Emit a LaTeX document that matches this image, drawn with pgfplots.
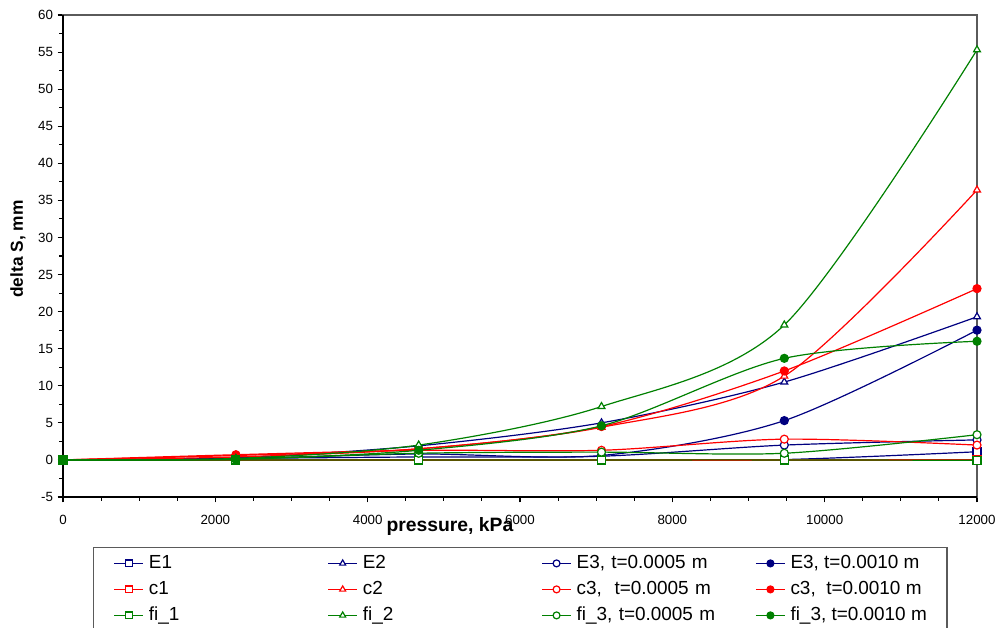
\documentclass[border=0pt]{standalone}
\usepackage{pgfplots}
\usepackage{pgfplotstable}
\pgfplotsset{compat=1.18}
\usepackage{fontspec}
\setmainfont{Liberation Sans}

\definecolor{navy}{RGB}{0,0,128}
\definecolor{exred}{RGB}{255,0,0}
\definecolor{exgreen}{RGB}{0,128,0}
\definecolor{framegray}{RGB}{90,90,90}

% settlement increments (mm) at each pressure step (kPa)
\pgfplotstableread{
p      E1    E2    Ea    Eb    c1   c2    ca   cb    f1     f2    fa    fb
0      0     0     0     0     0    0     0    0     0      0     0     0
2270   0     0.3   0.2   0.2   0    0.4   0.7  0.6   0      0.2   0.1   0.1
4670   0     1.9   0.4   0.8   0    1.5   1.3  1.5   0      2.0   0.9   1.3
7070   0     5.0   0.5   0.6   0    4.4   1.3  4.5   0      7.2   1.05  4.6
9470   0.05  10.5  2.0   5.3   0    11.3  2.8  12.0  0      18.2  0.9   13.7
12000  1.1   19.3  2.7   17.5  0    36.4  2.0  23.1  -0.05  55.3  3.4   16.0
}\settlement

\tikzset{
  wide entry/.style={text width=134pt, align=left},
}

\begin{document}
\begin{tikzpicture}
\useasboundingbox (0,0) rectangle (750.75pt,471pt);
\begin{axis}[
  scale only axis,
  width=685.5pt, height=361.5pt,
  at={(47.25pt,98.25pt)}, anchor=south west,
  xmin=0, xmax=12000, ymin=-5, ymax=60,
  xtick={0,2000,...,12000}, minor x tick num=3,
  ytick={-5,0,...,60}, minor y tick num=1,
  tick pos=left, tick align=outside,
  major tick length=4pt, minor tick length=3pt,
  tick style={black, line width=0.8pt},
  scaled x ticks=false,
  /pgf/number format/1000 sep={},
  /pgf/number format/assume math mode=true,
  ticklabel style={font=\fontsize{10}{12}\selectfont},
  xticklabel style={yshift=-6pt},
  axis line style={draw=framegray, line width=1.1pt},
  clip mode=individual,
  xlabel={pressure, kPa},
  ylabel={delta S, mm},
  xlabel style={font=\bfseries\fontsize{14.5}{16}\selectfont,
    at={(axis description cs:0.4234,0)}, anchor=center, yshift=-22pt},
  ylabel style={font=\bfseries\fontsize{13}{15}\selectfont,
    at={(axis description cs:-0.0492,0.5145)}, anchor=center},
  legend columns=4,
  legend cell align=left,
  legend style={
    at={(axis description cs:0,0)}, anchor=north west,
    xshift=22.5pt, yshift=-37.5pt,
    draw=framegray, line width=1.1pt,
    font=\fontsize{14.2}{16}\selectfont,
    inner xsep=15pt, inner ysep=5.25pt,
    row sep=6.5pt, column sep=0pt,
    nodes={inner sep=0pt, text height=10pt, text depth=3pt},
    /tikz/every odd column/.append style={column sep=3.75pt},
    /tikz/every even column/.append style={column sep=0pt},
  },
  every axis plot/.append style={line width=0.9pt, smooth, tension=0.5,
    mark size=3pt, mark options={solid, line width=0.8pt},
    legend image code/.code={
      \draw[mark repeat=2, mark phase=2, mark size=2.6pt, line width=0.9pt]
        plot coordinates {(0pt,0pt) (10.875pt,0pt) (21.75pt,0pt)};
    }},
]
% heavy left and bottom axis lines
\draw[black, line width=1.7pt] (rel axis cs:0,1) -- (rel axis cs:0,0) -- (rel axis cs:1,0);

\addplot[navy, mark=square*, mark options={fill=white}] table[x=p, y=E1] {\settlement};
\addlegendentry[wide entry]{E1}
\addplot[navy, mark=triangle*, mark options={fill=white}] table[x=p, y=E2] {\settlement};
\addlegendentry[wide entry]{E2}
\addplot[navy, mark=*, mark options={fill=white}] table[x=p, y=Ea] {\settlement};
\addlegendentry[wide entry]{E3, t=0.0005 m}
\addplot[navy, mark=*, mark options={fill=navy}] table[x=p, y=Eb] {\settlement};
\addlegendentry{E3, t=0.0010 m}

\addplot[exred, mark=square*, mark options={fill=white}] table[x=p, y=c1] {\settlement};
\addlegendentry[wide entry]{c1}
\addplot[exred, mark=triangle*, mark options={fill=white}] table[x=p, y=c2] {\settlement};
\addlegendentry[wide entry]{c2}
\addplot[exred, mark=*, mark options={fill=white}] table[x=p, y=ca] {\settlement};
\addlegendentry[wide entry]{c3,\ \ t=0.0005 m}
\addplot[exred, mark=*, mark options={fill=exred}] table[x=p, y=cb] {\settlement};
\addlegendentry{c3,\ \ t=0.0010 m}

\addplot[exgreen, mark=square*, mark options={fill=white}] table[x=p, y=f1] {\settlement};
\addlegendentry[wide entry]{fi\_1}
\addplot[exgreen, mark=triangle*, mark options={fill=white}] table[x=p, y=f2] {\settlement};
\addlegendentry[wide entry]{fi\_2}
\addplot[exgreen, mark=*, mark options={fill=white}] table[x=p, y=fa] {\settlement};
\addlegendentry[wide entry]{fi\_3, t=0.0005 m}
\addplot[exgreen, mark=*, mark options={fill=exgreen}] table[x=p, y=fb] {\settlement};
\addlegendentry{fi\_3, t=0.0010 m}
\end{axis}
\end{tikzpicture}
\end{document}
